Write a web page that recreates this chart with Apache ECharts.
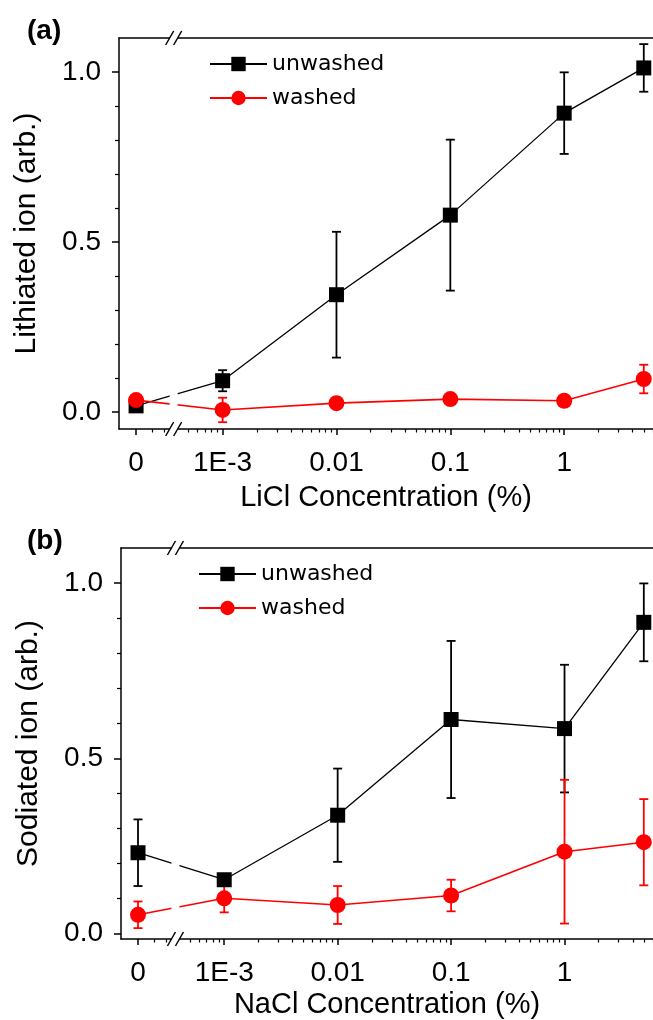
<!DOCTYPE html>
<html>
<head>
<meta charset="utf-8">
<script src="https://cdn.jsdelivr.net/npm/echarts@6/dist/echarts.min.js"></script>
<style>
  html, body { margin: 0; padding: 0; background: #fff; }
  #chart { width: 653px; height: 1020px; }
</style>
</head>
<body>
<div id="chart"></div>
<script>
	'use strict';

	/* data */
	var concentrations = [0, 0.001, 0.01, 0.1, 1, 5];
	var tickConc = [0, 0.001, 0.01, 0.1, 1];
	var tickLabels = ['0', '1E-3', '0.01', '0.1', '1'];
	var yTicks = [0, 0.5, 1.0];

	var liUnwashed = [0.018, 0.092, 0.345, 0.579, 0.879, 1.012];
	var liUnwashedErr = [0.01, 0.031, 0.185, 0.222, 0.12, 0.07];
	var liWashed = [0.035, 0.006, 0.026, 0.038, 0.033, 0.097];
	var liWashedErr = [0.012, 0.036, 0.01, 0.01, 0.01, 0.042];

	var naUnwashed = [0.231, 0.154, 0.338, 0.611, 0.585, 0.888];
	var naUnwashedErr = [0.095, 0.01, 0.133, 0.224, 0.182, 0.111];
	var naWashed = [0.054, 0.101, 0.082, 0.109, 0.234, 0.261];
	var naWashedErr = [0.038, 0.04, 0.054, 0.045, 0.205, 0.123];

	/* x is log10 of concentration, 0 sits left of the axis break */
	var ZERO_POS = -3.76;
	var BREAK_POS = -3.43;
	var X_MIN = -3.91, X_MAX = 0.78;

	function xPos(c) {
		return c === 0 ? ZERO_POS : Math.log10(c);
	}

	var majorX = tickConc.map(xPos);
	var minorX = [ZERO_POS + 0.14, ZERO_POS + 0.245];
	[5, 6, 7, 8, 9].forEach(function (k) { minorX.push(Math.log10(k) - 4); });
	[-3, -2, -1, 0].forEach(function (d) {
		for (var k = 2; k <= 9; k++) {
			var v = d + Math.log10(k);
			if (v < X_MAX) minorX.push(v);
		}
	});
	var minorY = [0.1, 0.2, 0.3, 0.4, 0.6, 0.7, 0.8, 0.9];

	var FONT = 'Liberation Sans';
	var axisColor = '#000';

	function tickLabel(v) {
		for (var i = 0; i < majorX.length; i++) {
			if (Math.abs(majorX[i] - v) < 1e-6) return tickLabels[i];
		}
		return '';
	}

	function points(vals, errs) {
		return concentrations.map(function (c, i) {
			return [xPos(c), vals[i], errs[i]];
		});
	}

	function renderErr(params, api) {
		var x = api.value(0), y = api.value(1), e = api.value(2);
		var hi = api.coord([x, y + e]);
		var lo = api.coord([x, y - e]);
		var w = 4.5;
		var st = { stroke: api.visual('color'), lineWidth: 1.8 };
		return {
			type: 'group',
			children: [
				{ type: 'line', shape: { x1: hi[0], y1: hi[1], x2: lo[0], y2: lo[1] }, style: st },
				{ type: 'line', shape: { x1: hi[0] - w, y1: hi[1], x2: hi[0] + w, y2: hi[1] }, style: st },
				{ type: 'line', shape: { x1: lo[0] - w, y1: lo[1], x2: lo[0] + w, y2: lo[1] }, style: st }
			]
		};
	}

	function renderBreak(params, api) {
		var top = api.coord([api.value(0), api.value(2)]);
		var bot = api.coord([api.value(0), api.value(1)]);
		var x = top[0];
		var st = { stroke: axisColor, lineWidth: 1.5 };
		var kids = [
			{ type: 'rect', shape: { x: x - 4, y: top[1] - 3, width: 8, height: bot[1] - top[1] + 6 }, style: { fill: '#fff' } }
		];
		[top[1], bot[1]].forEach(function (yy) {
			[-4, 4].forEach(function (dx) {
				kids.push({ type: 'line', shape: { x1: x + dx - 4, y1: yy + 7, x2: x + dx + 4, y2: yy - 7 }, style: st });
			});
		});
		return { type: 'group', children: kids };
	}

	var option = {
		animation: false,
		backgroundColor: '#fff',
		textStyle: { fontFamily: FONT },
		title: [
			{ text: '(a)', left: 22, top: 12, textStyle: { fontFamily: FONT, fontWeight: 'bold', fontSize: 28, color: '#000' } },
			{ text: '(b)', left: 22, top: 522, textStyle: { fontFamily: FONT, fontWeight: 'bold', fontSize: 28, color: '#000' } }
		],
		legend: [],
		grid: [
			{ left: 119, top: 38, right: 0, height: 391 },
			{ left: 121, top: 548, right: 0, height: 391 }
		],
		xAxis: [],
		yAxis: [],
		series: []
	};

	var panels = [
		{ yMin: -0.05, yMax: 1.1, xName: 'LiCl Concentration (%)', yName: 'Lithiated ion (arb.)', nameGapX: 54,
		  legendLeft: 204, legendTop: 48,
		  unwashed: liUnwashed, unwashedErr: liUnwashedErr, washed: liWashed, washedErr: liWashedErr },
		{ yMin: -0.015, yMax: 1.1, xName: 'NaCl Concentration (%)', yName: 'Sodiated ion (arb.)', nameGapX: 51,
		  legendLeft: 193, legendTop: 558,
		  unwashed: naUnwashed, unwashedErr: naUnwashedErr, washed: naWashed, washedErr: naWashedErr }
	];

	panels.forEach(function (p, g) {
		var xi = option.xAxis.length, yi = option.yAxis.length;
		option.xAxis.push({
			type: 'value', gridIndex: g, min: X_MIN, max: X_MAX, position: 'bottom',
			axisLine: { onZero: false, lineStyle: { color: axisColor, width: 1.5 } },
			axisTick: { customValues: majorX, length: 6, lineStyle: { color: axisColor, width: 1.5 } },
			axisLabel: { customValues: majorX, formatter: tickLabel, margin: 20, fontSize: 28, color: '#000', fontFamily: FONT },
			splitLine: { show: false },
			name: p.xName, nameLocation: 'middle', nameGap: p.nameGapX,
			nameTextStyle: { fontSize: 29, color: '#000', fontFamily: FONT }
		}, {
			type: 'value', gridIndex: g, min: X_MIN, max: X_MAX, position: 'bottom',
			axisLine: { show: false, onZero: false },
			axisTick: { customValues: minorX, length: 3.5, lineStyle: { color: axisColor, width: 1.2 } },
			axisLabel: { show: false },
			splitLine: { show: false }
		}, {
			type: 'value', gridIndex: g, min: X_MIN, max: X_MAX, position: 'top',
			axisLine: { onZero: false, lineStyle: { color: axisColor, width: 1.5 } },
			axisTick: { show: false },
			axisLabel: { show: false },
			splitLine: { show: false }
		});
		option.yAxis.push({
			type: 'value', gridIndex: g, min: p.yMin, max: p.yMax, position: 'left',
			axisLine: { show: true, onZero: false, lineStyle: { color: axisColor, width: 1.5 } },
			axisTick: { show: true, customValues: yTicks, length: 7, lineStyle: { color: axisColor, width: 1.5 } },
			axisLabel: { customValues: yTicks, formatter: function (v) { return v.toFixed(1); }, margin: 18, fontSize: 28, color: '#000', fontFamily: FONT },
			splitLine: { show: false },
			name: p.yName, nameLocation: 'middle', nameGap: 77, nameRotate: 90,
			nameTextStyle: { fontSize: 30, color: '#000', fontFamily: FONT }
		}, {
			type: 'value', gridIndex: g, min: p.yMin, max: p.yMax, position: 'left',
			axisLine: { show: false, onZero: false },
			axisTick: { show: true, customValues: minorY, length: 4, lineStyle: { color: axisColor, width: 1.2 } },
			axisLabel: { show: false },
			splitLine: { show: false }
		});

		option.series.push(
			{ name: 'unwashed-err' + g, type: 'custom', xAxisIndex: xi, yAxisIndex: yi, z: 1,
			  itemStyle: { color: '#000' }, renderItem: renderErr, data: points(p.unwashed, p.unwashedErr) },
			{ name: 'washed-err' + g, type: 'custom', xAxisIndex: xi, yAxisIndex: yi, z: 1,
			  itemStyle: { color: '#ff0000' }, renderItem: renderErr, data: points(p.washed, p.washedErr) },
			{ name: 'unwashed', type: 'line', xAxisIndex: xi, yAxisIndex: yi, z: 3,
			  symbol: 'rect', symbolSize: 15, color: '#000',
			  lineStyle: { color: '#000', width: 1.3 }, itemStyle: { color: '#000' },
			  data: points(p.unwashed, p.unwashedErr) },
			{ name: 'washed', type: 'line', xAxisIndex: xi, yAxisIndex: yi, z: 3,
			  symbol: 'circle', symbolSize: 16, color: '#ff0000',
			  lineStyle: { color: '#ff0000', width: 1.6 }, itemStyle: { color: '#ff0000' },
			  data: points(p.washed, p.washedErr) },
			{ name: 'break' + g, type: 'custom', xAxisIndex: xi, yAxisIndex: yi, z: 10, silent: true, clip: false,
			  renderItem: renderBreak, data: [[BREAK_POS, p.yMin, p.yMax]] }
		);

		option.legend.push({
			left: p.legendLeft, top: p.legendTop, orient: 'vertical',
			data: ['unwashed', 'washed'],
			itemWidth: 57, itemHeight: 18, itemGap: 12,
			textStyle: { fontFamily: 'DejaVu Sans', fontSize: 22, color: '#000' }
		});
	});

	var chart = echarts.init(document.getElementById('chart'));
	chart.setOption(option);
	window.addEventListener('resize', function () {
		chart.resize();
	});
</script>
</body>
</html>
